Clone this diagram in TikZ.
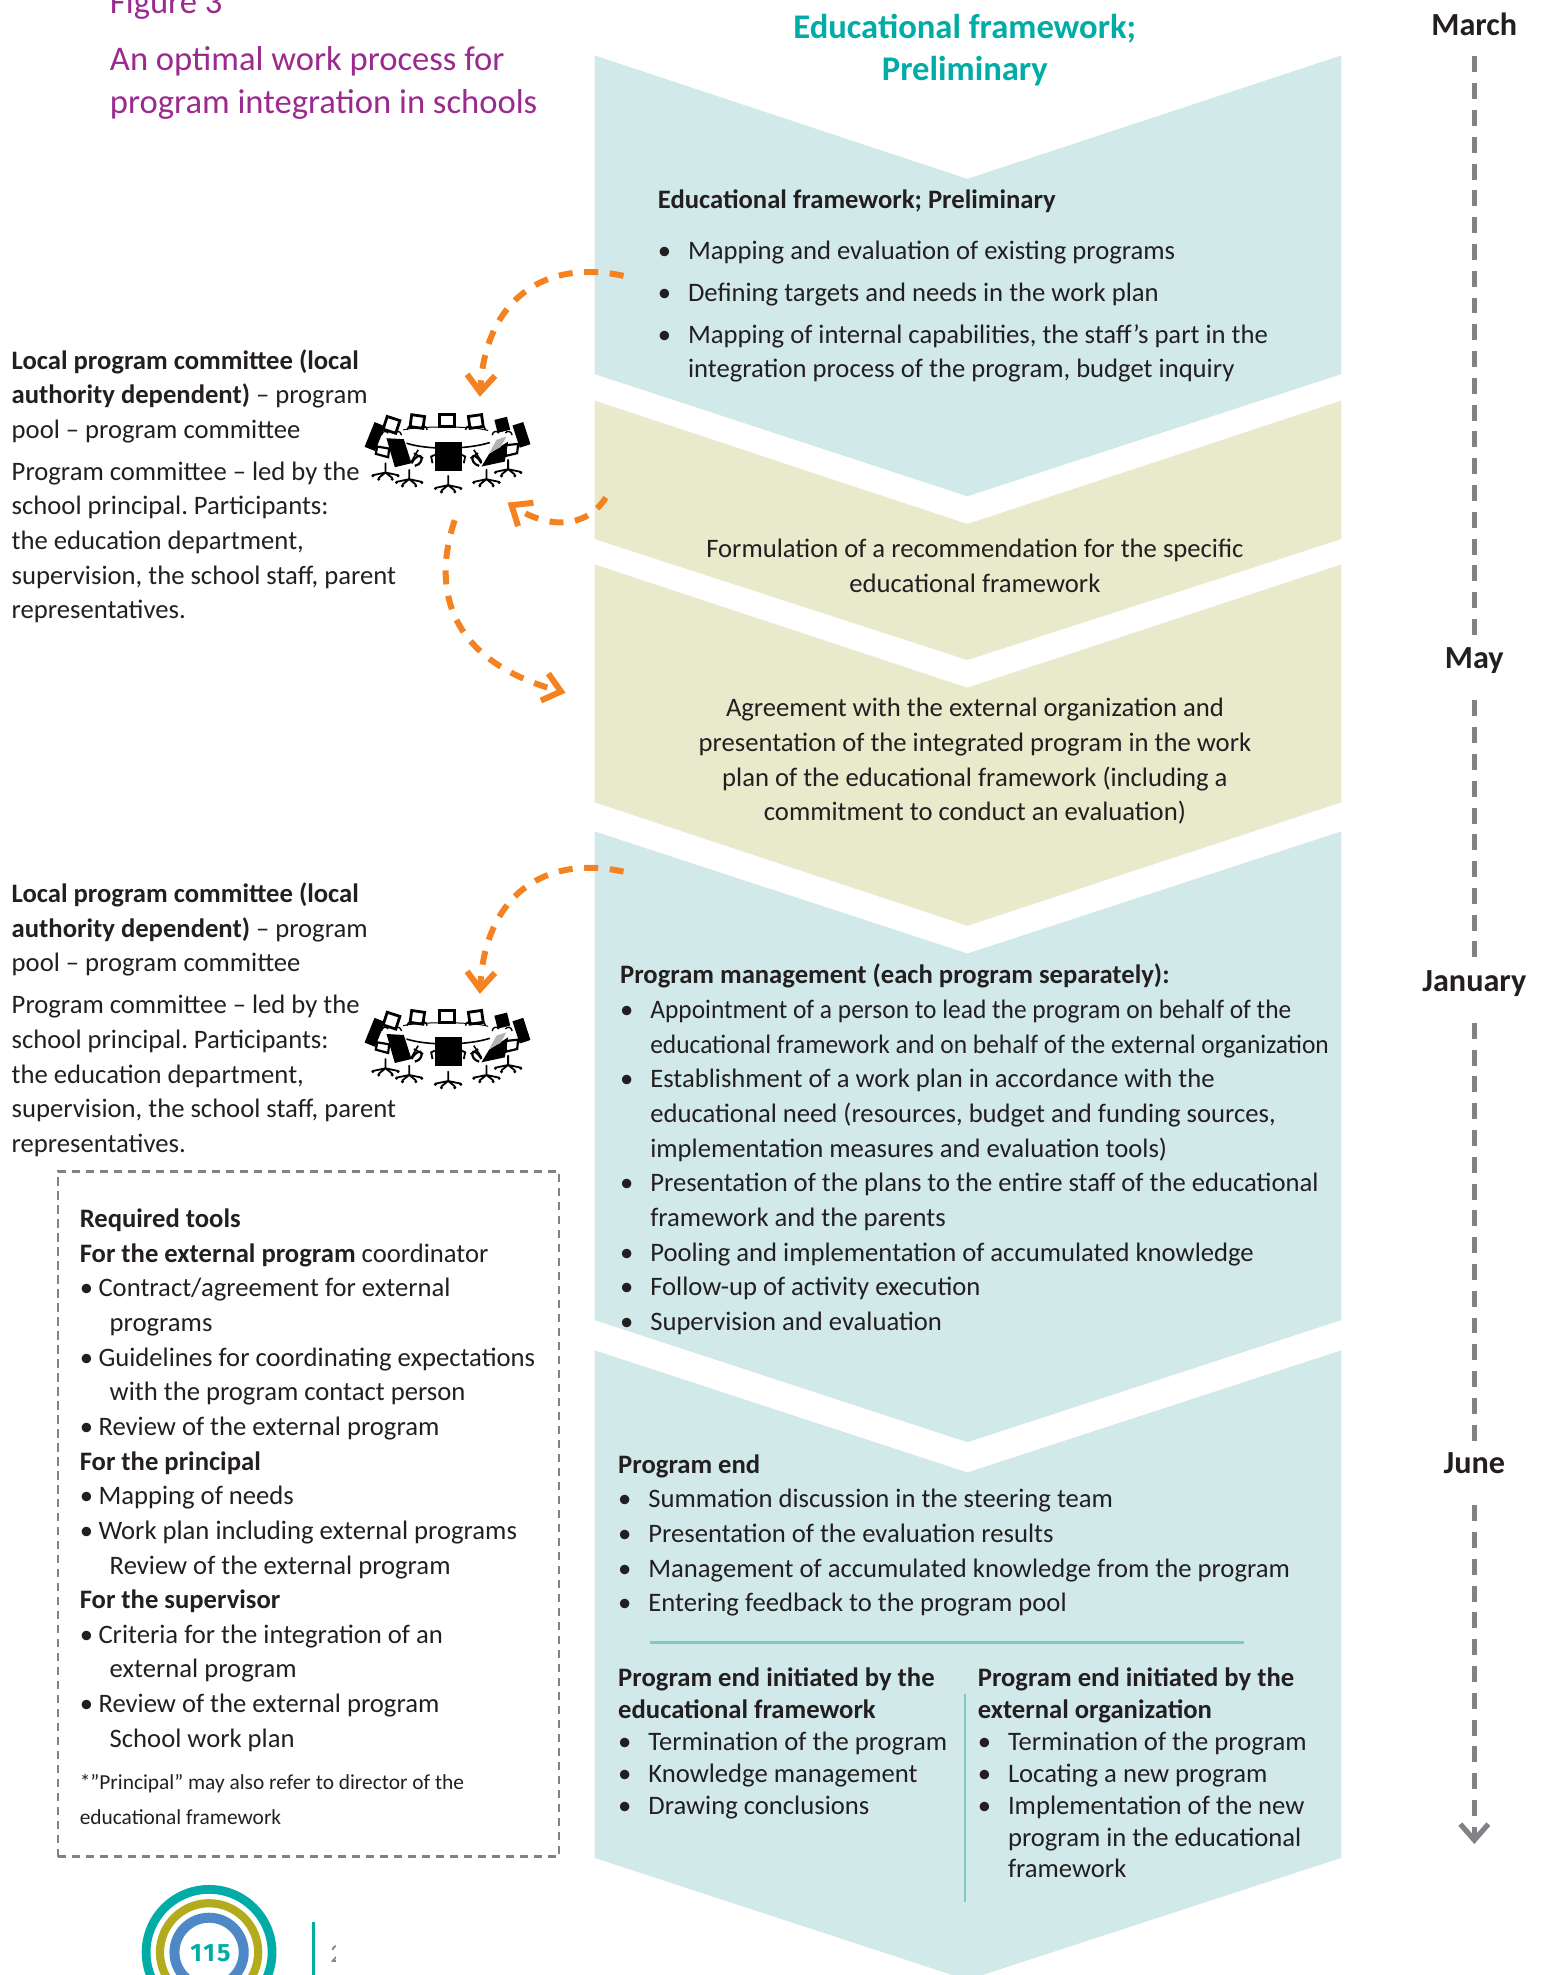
\documentclass[tikz,border=0pt]{standalone}
\usepackage{fontspec}
\setmainfont{Carlito}
\newfontfamily\logofont[LetterSpace=8]{Fira Sans}
\usetikzlibrary{arrows.meta}
\definecolor{paleteal}{HTML}{D2E9E9}
\definecolor{paleolive}{HTML}{E9E9CC}
\definecolor{inktext}{HTML}{231F20}
\definecolor{orangearrow}{HTML}{F58220}
\definecolor{purpletitle}{HTML}{9B2A8F}
\definecolor{tealhead}{HTML}{00ACA5}
\definecolor{timegrey}{HTML}{808285}
\definecolor{rulteal}{HTML}{7FC9C7}
\definecolor{logoolive}{HTML}{B2AC1C}
\definecolor{logoblue}{HTML}{4F88C6}
\frenchspacing
\newcommand{\bodyfont}{\fontsize{13.33}{17.33}\selectfont}
\newcommand{\smallbodyfont}{\fontsize{13.33}{15.95}\selectfont}
\newcommand{\notefont}{\fontsize{10.7}{17.4}\selectfont}
\newcommand{\bl}[1]{\makebox[15.1pt][l]{\textbullet}#1}
\newcommand{\blb}[1]{\makebox[9.4pt][l]{\textbullet}#1}
\newcommand{\ind}{\hspace*{15.1pt}}
\newcommand{\indb}{\hspace*{15pt}}
\newcommand{\squeezed}[1]{\scalebox{0.955}[1]{#1}}
% one castor base, in zoom units
\newcommand{\chairbase}[2]{%
  \draw[line width=0.9pt,line cap=round] (#1,#2-28)--(#1,#2)
    (#1,#2)--(#1-38,#2+8) (#1,#2)--(#1+38,#2+8) (#1,#2)--(#1-20,#2+16) (#1,#2)--(#1+20,#2+16);
  \foreach \dx/\dy in {-38/8,38/8,-20/18,20/18}{\fill (#1+\dx,#2+\dy+2) circle[radius=5];}%
}
% small arm curves of a far chair, in zoom units
\newcommand{\chairarms}[2]{%
  \draw[line width=0.7pt] (#1-30,#2+8) .. controls (#1-28,#2-6) and (#1-14,#2-6) .. (#1-10,#2+2)
    (#1+30,#2+8) .. controls (#1+28,#2-6) and (#1+14,#2-6) .. (#1+10,#2+2);
}
\tikzset{
  x=0.63pt,y=-0.63pt,
  chevteal/.style={fill=paleteal},
  chevolive/.style={fill=paleolive},
  textblock/.style={anchor=north west,inner sep=0pt,align=left,text=inktext,font=\bodyfont},
  textcentre/.style={anchor=north,inner sep=0pt,align=center,text=inktext,font=\bodyfont},
  month/.style={inner sep=0pt,outer sep=0pt,minimum height=21.4pt,text height=10pt,text depth=0pt,text=inktext,font=\fontsize{16.1}{18}\selectfont\bfseries},
  timeline/.style={draw=timegrey,line width=2.6pt,dash pattern=on 8pt off 5.4pt},
  flow/.style={draw=orangearrow,line width=3pt,dash pattern=on 7pt off 5.8pt,
    -{Straight Barb[length=8.5pt,width=14pt,line width=3pt]}},
  tablepic/.pic={
    \begin{scope}[x=0.1667pt,y=-0.1667pt]
      % table top
      \draw[line width=0.5pt] (190,540) .. controls (240,528) and (400,528) .. (445,542);
      \draw[line width=0.8pt] (200,580) .. controls (260,600) and (380,600) .. (450,578);
      % back chairs
      \draw[line width=1.4pt,fill=white,rotate around={-18:(155,525)}] (135,505) rectangle (175,545);
      \draw[line width=1.4pt,fill=white,rotate around={-8:(232,515)}] (213,497) rectangle (252,533);
      \draw[line width=1.4pt,fill=white] (300,494) rectangle (343,530);
      \draw[line width=1.4pt,fill=white,rotate around={8:(407,515)}] (388,497) rectangle (428,533);
      \fill[rotate around={14:(487,525)}] (468,505) rectangle (507,545);
      \chairarms{232}{532}
      \chairarms{407}{532}
      \chairarms{155}{548}
      \chairarms{487}{548}
      % far side chairs
      \fill[rotate around={-22:(105,560)}] (88,520) rectangle (122,600);
      \fill[rotate around={18:(545,555)}] (528,520) rectangle (562,590);
      \draw[line width=1.1pt,fill=white] (112,590) -- (148,596) -- (145,622) -- (108,612) -- cycle;
      \draw[line width=1.1pt,fill=white] (498,586) -- (535,582) -- (532,610) -- (498,618) -- cycle;
      \chairbase{137}{668}
      \chairbase{505}{658}
      % front-left chair
      \fill (140,565)--(192,568)--(215,640)--(165,652)--cycle;
      \draw[line width=1.1pt] (215,640) .. controls (245,590) and (260,640) .. (225,648);
      \draw[line width=0.8pt] (222,610) -- (250,625) (235,600) -- (215,635);
      \chairbase{208}{688}
      % front-right chair
      \fill (448,612)--(505,575)--(495,635)--(425,650)--cycle;
      \fill[black!30] (448,610)--(470,570)--(500,560)--(482,592)--cycle;
      \draw[line width=1.1pt] (425,640) .. controls (395,590) and (385,640) .. (418,648);
      \draw[line width=0.8pt] (415,610) -- (392,625) (402,600) -- (425,635);
      \chairbase{440}{688}
      % front-centre chair
      \fill (285,575) rectangle (366,662);
      \draw[line width=0.9pt] (285,615) -- (274,620) -- (278,640) (366,615) -- (376,620) -- (372,640);
      \chairbase{325}{706}
    \end{scope}
  }
}
\begin{document}
\begin{tikzpicture}
\useasboundingbox (0,0) rectangle (1224,1568);
% chevrons
\fill[chevteal] (472,44)--(768,142)--(1065,44)--(1065,297)--(768,394)--(472,297)--cycle;
\fill[chevolive] (472,318)--(768,416)--(1065,318)--(1065,428)--(768,524)--(472,428)--cycle;
\fill[chevolive] (472,448)--(768,546)--(1065,448)--(1065,637)--(768,735)--(472,637)--cycle;
\fill[chevteal] (472,660)--(768,757)--(1065,660)--(1065,1048)--(768,1145)--(472,1048)--cycle;
\fill[chevteal] (472,1072)--(768,1169)--(1065,1072)--(1065,1475)--(780,1568)--(756,1568)--(472,1475)--cycle;

% titles
\node[textblock,text=purpletitle,font=\fontsize{17.3}{21.2}\selectfont] (title) at (87,-13.5) {\strut Figure 3\\[7.6pt]An optimal work process for\\program integration in schools};
\node[textcentre,text=tealhead,font=\fontsize{17.3}{21}\selectfont\bfseries] (head) at (766,7) {\strut Educational framework;\\Preliminary};

% chevron texts
\node[textblock] (t1) at (522,146) {\strut\textbf{Educational framework; Preliminary}\\[7.9pt]
\bl{Mapping and evaluation of existing programs}\\[3.7pt]
\bl{Defining targets and needs in the work plan}\\[3.7pt]
\bl{Mapping of internal capabilities, the staff’s part in the}\\
\ind integration process of the program, budget inquiry};
\node[textcentre] (t2) at (774,423) {\strut Formulation of a recommendation for the specific\\educational framework};
\node[textcentre] (t3) at (774,549.5) {\strut Agreement with the external organization and\\presentation of the integrated program in the work\\plan of the educational framework (including a\\commitment to conduct an evaluation)};
\node[textblock] (t4) at (492,761.5) {\strut\textbf{Program management (each program separately):}\\
\bl{\squeezed{Appointment of a person to lead the program on behalf of the}}\\
\ind \squeezed{educational framework and on behalf of the external organization}\\
\bl{Establishment of a work plan in accordance with the}\\
\ind educational need (resources, budget and funding sources,\\
\ind implementation measures and evaluation tools)\\
\bl{Presentation of the plans to the entire staff of the educational}\\
\ind framework and the parents\\
\bl{Pooling and implementation of accumulated knowledge}\\
\bl{Follow-up of activity execution}\\
\bl{Supervision and evaluation}};
\node[textblock] (t5) at (490.5,1150) {\strut\textbf{Program end}\\
\bl{Summation discussion in the steering team}\\
\bl{Presentation of the evaluation results}\\
\bl{Management of accumulated knowledge from the program}\\
\bl{Entering feedback to the program pool}};
\coordinate (ruleL) at (516,1304);
\coordinate (ruleR) at (988,1304);
\draw[rulteal,line width=1.3pt] (ruleL)--(ruleR);
\coordinate (divT) at (766,1345);
\coordinate (divB) at (766,1510);
\draw[rulteal,line width=1.3pt] (divT)--(divB);
\node[textblock,font=\smallbodyfont] (t6) at (490.5,1321) {\strut\textbf{Program end initiated by the}\\
\textbf{educational framework}\\
\bl{Termination of the program}\\
\bl{Knowledge management}\\
\bl{Drawing conclusions}};
\node[textblock,font=\smallbodyfont] (t7) at (776,1321) {\strut\textbf{Program end initiated by the}\\
\textbf{external organization}\\
\bl{Termination of the program}\\
\bl{Locating a new program}\\
\bl{Implementation of the new}\\
\ind program in the educational\\
\ind framework};

% left texts
\node[textblock] (l1) at (9,273.5) {\strut\textbf{Local program committee (local}\\
\textbf{authority dependent)} – program\\
pool – program committee\\[3.6pt]
Program committee – led by the\\
school principal. Participants:\\
the education department,\\
supervision, the school staff, parent\\
representatives.};
\node[textblock] (l2) at (9,697) {\strut\textbf{Local program committee (local}\\
\textbf{authority dependent)} – program\\
pool – program committee\\[3.6pt]
Program committee – led by the\\
school principal. Participants:\\
the education department,\\
supervision, the school staff, parent\\
representatives.};

% meeting tables
\pic at (269.8,198.4) {tablepic};
\pic at (269.8,671.4) {tablepic};

% dashed box
\node[draw=timegrey,line width=1.3pt,dash pattern=on 4.2pt off 2.8pt,inner sep=0pt,outer sep=0pt,minimum width=250.7pt,minimum height=342.7pt,anchor=north west] (toolsbox) at (46,930) {};
\node[textblock] (tools) at (63,955) {\strut\textbf{Required tools}\\
\textbf{For the external program} coordinator\\
\blb{Contract/agreement for external}\\
\indb programs\\
\blb{Guidelines for coordinating expectations}\\
\indb with the program contact person\\
\blb{Review of the external program}\\
\textbf{For the principal}\\
\blb{Mapping of needs}\\
\blb{Work plan including external programs}\\
\indb Review of the external program\\
\textbf{For the supervisor}\\
\blb{Criteria for the integration of an}\\
\indb external program\\
\blb{Review of the external program}\\
\indb School work plan};
\node[textblock,font=\notefont] (note) at (63,1401) {\strut *”Principal” may also refer to director of the\\educational framework};

% orange arrows
\coordinate (a1s) at (495,219); \coordinate (a1e) at (381,315);
\draw[flow] (a1s) .. controls (430,205) and (385,240) .. (a1e);
\coordinate (a2s) at (481,395); \coordinate (a2e) at (403,399);
\draw[flow] (a2s) .. controls (465,420) and (435,420) .. (a2e);
\coordinate (a3s) at (361,413); \coordinate (a3e) at (449,550);
\draw[flow] (a3s) .. controls (342,470) and (358,525) .. (a3e);
\coordinate (a4s) at (495,692); \coordinate (a4e) at (381,789);
\draw[flow] (a4s) .. controls (430,678) and (385,713) .. (a4e);

% timeline
\node[month] (march) at (1170.5,20) {March};
\node[month] (may) at (1170.5,523) {May};
\node[month] (january) at (1170.5,779) {January};
\node[month] (june) at (1170.5,1162) {June};
\coordinate (tend) at (1170.5,1464);
\draw[timeline,shorten <=4.9pt] (march.south)--(may.north);
\draw[timeline,shorten <=10.1pt] (may.south)--(january.north);
\draw[timeline,shorten <=10.1pt] (january.south)--(june.north);
\draw[timeline,shorten <=10.1pt,-{Straight Barb[length=8pt,width=14pt,line width=2.6pt]}] (june.south)--(tend);

% logo
\draw[tealhead,line width=4.4pt] (166,1550) circle[radius=50];
\draw[logoolive,line width=4.1pt] (166,1550) circle[radius=39];
\draw[logoblue,line width=5pt] (166,1550) circle[radius=27.5];
\node[inner sep=0pt,text=tealhead,font=\logofont\fontsize{12.5}{14}\selectfont\bfseries] (pagenum) at (167,1551) {115};
\coordinate (pgT) at (249,1526); \coordinate (pgB) at (249,1568);
\draw[tealhead,line width=1.3pt] (pgT)--(pgB);
\begin{scope}
\clip (258,1530) rectangle (266.5,1568);
\node[anchor=base west,inner sep=0pt,text=timegrey,font=\fontsize{13}{15}\selectfont] (cutoff) at (262,1558) {2};
\end{scope}
\end{tikzpicture}
\end{document}
